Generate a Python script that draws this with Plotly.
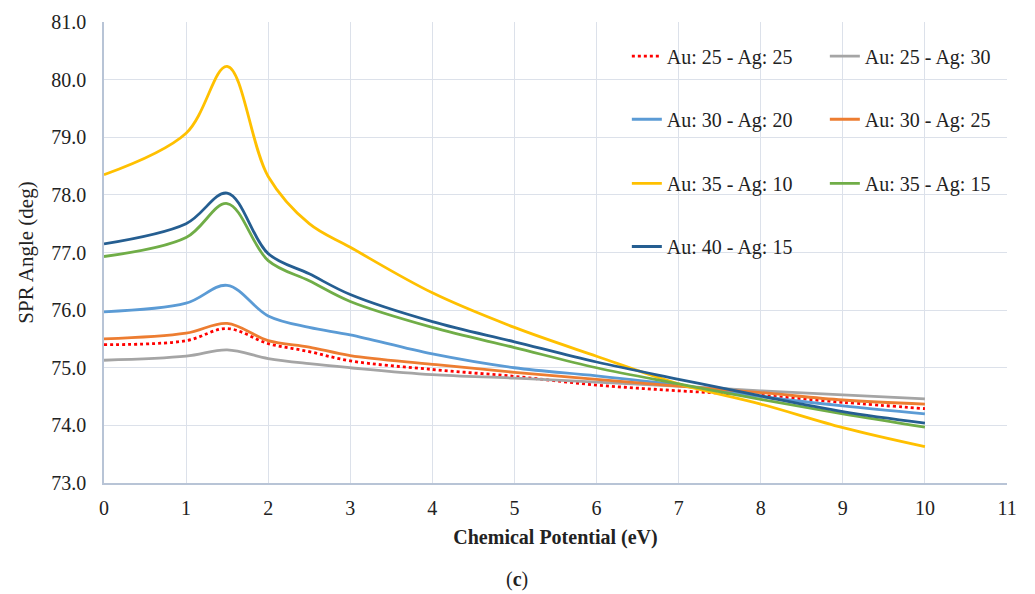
import plotly.graph_objects as go

x_ev = [0, 1, 1.5, 2, 2.5, 3, 4, 5, 6, 7, 8, 9, 10]

au25_ag25 = [75.40, 75.47, 75.68, 75.42, 75.28, 75.12, 74.97, 74.85, 74.70, 74.60, 74.52, 74.40, 74.29]
au25_ag30 = [75.13, 75.20, 75.31, 75.16, 75.07, 75.00, 74.88, 74.82, 74.75, 74.68, 74.60, 74.53, 74.46]
au30_ag20 = [75.97, 76.12, 76.43, 75.90, 75.70, 75.57, 75.24, 75.00, 74.86, 74.70, 74.50, 74.34, 74.20]
au30_ag25 = [75.50, 75.60, 75.77, 75.47, 75.36, 75.21, 75.06, 74.92, 74.80, 74.68, 74.57, 74.44, 74.37]
au35_ag10 = [78.35, 79.07, 80.23, 78.32, 77.50, 77.09, 76.30, 75.70, 75.20, 74.72, 74.37, 73.96, 73.63]
au35_ag15 = [76.93, 77.26, 77.85, 76.86, 76.51, 76.15, 75.70, 75.35, 75.00, 74.72, 74.45, 74.20, 73.97]
au40_ag15 = [77.15, 77.50, 78.03, 76.98, 76.63, 76.27, 75.80, 75.45, 75.10, 74.80, 74.51, 74.24, 74.04]

series = [
    ("Au: 25 - Ag: 25", au25_ag25, "#FF0000", "dot", "legend"),
    ("Au: 25 - Ag: 30", au25_ag30, "#A5A5A5", "solid", "legend"),
    ("Au: 30 - Ag: 20", au30_ag20, "#5B9BD5", "solid", "legend2"),
    ("Au: 30 - Ag: 25", au30_ag25, "#ED7D31", "solid", "legend2"),
    ("Au: 35 - Ag: 10", au35_ag10, "#FFC000", "solid", "legend3"),
    ("Au: 35 - Ag: 15", au35_ag15, "#70AD47", "solid", "legend3"),
    ("Au: 40 - Ag: 15", au40_ag15, "#255E91", "solid", "legend4"),
]

FONT = "Liberation Serif"
TXT = "#222222"

fig = go.Figure()
for name, vals, color, dash, leg in series:
    fig.add_trace(go.Scatter(
        x=x_ev, y=vals, name=name, mode="lines",
        line=dict(color=color, width=2.8, dash=dash, shape="spline", smoothing=1.0),
        legend=leg,
    ))

def leg(y):
    return dict(
        orientation="h", x=0.579, y=y, xanchor="left", yanchor="middle",
        entrywidth=153, entrywidthmode="pixels", bgcolor="rgba(0,0,0,0)",
        font=dict(family=FONT, size=20, color=TXT), traceorder="normal",
    )

fig.update_layout(
    width=1035, height=594,
    margin=dict(l=104, r=28, t=22, b=111, autoexpand=False),
    paper_bgcolor="white", plot_bgcolor="white",
    font=dict(family=FONT, size=20, color=TXT),
    legend=leg(0.926), legend2=leg(0.789), legend3=leg(0.650), legend4=leg(0.513),
    xaxis=dict(
        range=[0, 11], dtick=1, tick0=0, showgrid=True, gridcolor="#DCE1EA", gridwidth=1,
        showline=True, linecolor="#B8C4D6", linewidth=1.5, zeroline=False, ticks="",
        ticklabelstandoff=6,
        tickfont=dict(family=FONT, size=20, color=TXT),
        title=dict(text="<b>Chemical Potential (eV)</b>", font=dict(family=FONT, size=20, color=TXT), standoff=12),
    ),
    yaxis=dict(
        range=[73, 81], dtick=1, tick0=73, tickformat=".1f", showgrid=True, gridcolor="#DCE1EA", gridwidth=1,
        showline=True, linecolor="#B8C4D6", linewidth=1.5, zeroline=False, ticks="",
        ticklabelstandoff=12,
        tickfont=dict(family=FONT, size=20, color=TXT),
        title=dict(text="SPR Angle (deg)", font=dict(family=FONT, size=21, color=TXT), standoff=12),
    ),
    annotations=[dict(text="(<b>c</b>)", xref="paper", yref="paper", x=0.457, y=-0.209,
                      xanchor="center", yanchor="middle", showarrow=False,
                      font=dict(family=FONT, size=20, color=TXT))],
)

fig.write_html("out.html")
